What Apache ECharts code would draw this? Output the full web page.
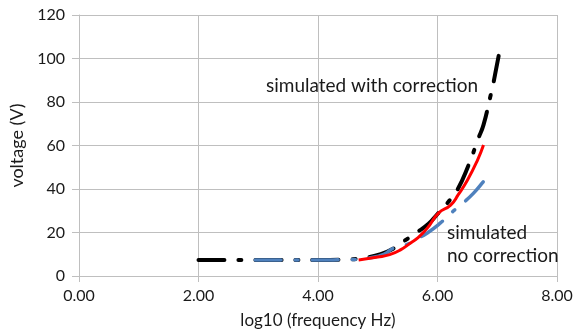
<!DOCTYPE html>
<html>
<head>
<meta charset="utf-8">
<script src="https://cdn.jsdelivr.net/npm/echarts@6/dist/echarts.min.js"></script>
<style>
  html, body { margin: 0; padding: 0; background: #fff; }
  #box { width: 579px; height: 334px; }
</style>
</head>
<body>
<div id="box"></div>
<script>
  // log10(f), voltage pairs
  const withCorrection = [
    [2.0, 7.4], [3.0, 7.4], [4.0, 7.4], [4.5, 7.6], [4.8, 8.5], [5.05, 10.0],
    [5.28, 12.9], [5.47, 16.6], [5.65, 20.0], [5.85, 24.0], [6.0, 28.5],
    [6.18, 34.0], [6.33, 39.5], [6.52, 51.0], [6.68, 63.0], [6.77, 69.5],
    [6.88, 82.0], [6.93, 88.0], [6.98, 95.0], [7.05, 105.0],
  ];
  const noCorrection = [
    [2.95, 7.4], [4.0, 7.4], [4.5, 7.5], [4.9, 8.5], [5.1, 10.0], [5.27, 12.9],
    [5.47, 14.3], [5.65, 17.0], [5.83, 19.8], [6.05, 24.4], [6.23, 29.0],
    [6.43, 33.6], [6.6, 38.0], [6.75, 42.8], [6.88, 47.4],
  ];
  const measured = [
    [4.68, 7.4], [5.0, 8.7], [5.2, 9.8], [5.38, 12.0], [5.55, 15.2], [5.67, 17.5],
    [5.83, 22.0], [6.02, 29.0], [6.22, 32.6], [6.35, 37.5], [6.5, 44.0],
    [6.67, 53.3], [6.77, 60.2],
  ];
  const xTicks = [0, 2, 4, 6, 8];
  const yTicks = [0, 20, 40, 60, 80, 100, 120];

  const font = 'Lato, "Open Sans", sans-serif';
  const grey = '#bfbfbf';
  const textColor = '#1a1a1a';

  const chart = echarts.init(document.getElementById('box'));
  chart.setOption({
    animation: false,
    backgroundColor: '#fff',
    grid: { left: 77, right: 22, top: 15, bottom: 58 },
    xAxis: {
      type: 'value',
      min: xTicks[0],
      max: xTicks[xTicks.length - 1],
      interval: 2,
      name: 'log10 (frequency Hz)',
      nameLocation: 'middle',
      nameGap: 36,
      nameTextStyle: { fontFamily: font, fontSize: 17, color: textColor },
      axisLine: { lineStyle: { color: grey, width: 1 } },
      axisTick: { show: true, length: 6, lineStyle: { color: grey } },
      axisLabel: {
        margin: 12,
        fontFamily: font, fontSize: 16, color: textColor,
        formatter: (v) => v.toFixed(2),
      },
      splitLine: { show: true, lineStyle: { color: grey, width: 1 } },
    },
    yAxis: {
      type: 'value',
      min: yTicks[0],
      max: yTicks[yTicks.length - 1],
      interval: 20,
      name: 'voltage (V)',
      nameLocation: 'middle',
      nameGap: 53,
      nameTextStyle: { fontFamily: font, fontSize: 18, color: textColor },
      axisLine: { show: true, lineStyle: { color: grey, width: 1 } },
      axisTick: { show: true, length: 7, lineStyle: { color: grey } },
      axisLabel: { margin: 14, fontFamily: font, fontSize: 16, color: textColor },
      splitLine: { show: true, lineStyle: { color: grey, width: 1 } },
    },
    series: [
      {
        name: 'simulated with correction',
        type: 'line',
        data: withCorrection,
        smooth: true,
        showSymbol: false,
        lineStyle: { color: '#000', width: 4, type: [26, 14, 3, 14], cap: 'round' },
        z: 2,
      },
      {
        name: 'simulated no correction',
        type: 'line',
        data: noCorrection,
        smooth: true,
        showSymbol: false,
        lineStyle: { color: '#4f81bd', width: 3.5, type: [26, 14, 3, 14], cap: 'round' },
        z: 3,
      },
      {
        name: 'measured',
        type: 'line',
        data: measured,
        smooth: true,
        showSymbol: false,
        lineStyle: { color: '#ff0000', width: 3 },
        z: 4,
      },
    ],
    graphic: [
      {
        type: 'text', left: 266, top: 76, z: 10,
        style: { text: 'simulated with correction', font: '19px ' + font, fill: textColor },
      },
      {
        type: 'text', left: 447, top: 221, z: 10,
        style: { text: 'simulated\nno correction', font: '19px ' + font, fill: textColor, lineHeight: 23 },
      },
    ],
  });
</script>
</body>
</html>
